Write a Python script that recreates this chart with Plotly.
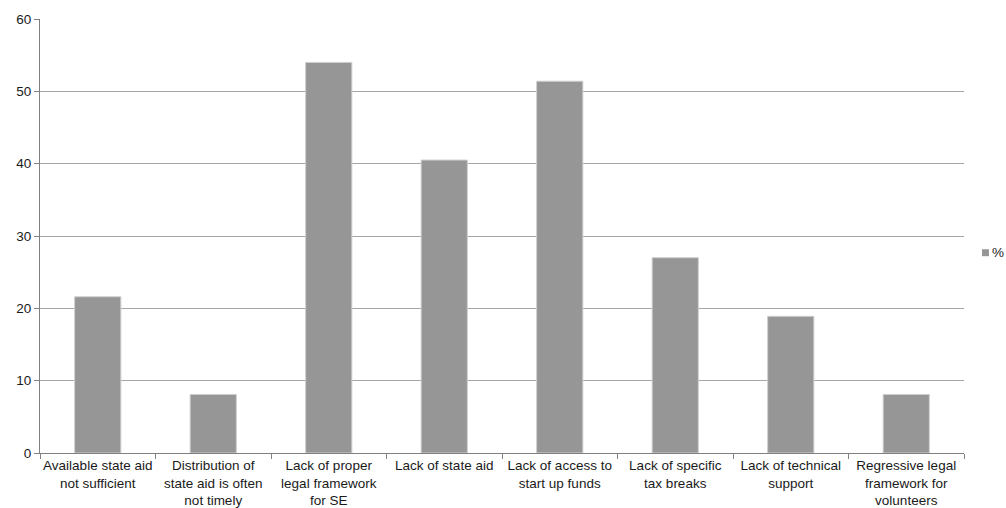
import plotly.graph_objects as go

categories = [
    "Available state aid<br>not sufficient",
    "Distribution of<br>state aid is often<br>not timely",
    "Lack of proper<br>legal framework<br>for SE",
    "Lack of state aid",
    "Lack of access to<br>start up funds",
    "Lack of specific<br>tax breaks",
    "Lack of technical<br>support",
    "Regressive legal<br>framework for<br>volunteers",
]
percent = [21.6, 8.1, 54.0, 40.5, 51.4, 27.0, 18.9, 8.1]
series_name = "%"
y_ticks = [0, 10, 20, 30, 40, 50, 60]

BAR = "#969696"
FONT = dict(family="Liberation Sans, Arial, sans-serif", size=13.5, color="#1a1a1a")

fig = go.Figure()
fig.add_trace(go.Bar(
    x=categories,
    y=percent,
    name=series_name,
    marker=dict(color=BAR, line=dict(color="#cfcfcf", width=1)),
    showlegend=False,
))

# Legend key drawn to the right of the plot area
fig.add_shape(type="rect", xref="paper", yref="paper",
              x0=1.0195, x1=1.0270, y0=0.4535, y1=0.4695,
              fillcolor=BAR, line=dict(width=0))
fig.add_annotation(text=series_name, xref="paper", yref="paper",
                   x=1.0285, y=0.4615, xanchor="left", yanchor="middle",
                   showarrow=False, font=FONT)

fig.update_layout(
    width=1006, height=508,
    margin=dict(l=40, r=42, t=19, b=55),
    paper_bgcolor="white", plot_bgcolor="white",
    font=FONT,
    bargap=0.6,
)
fig.update_xaxes(
    showline=True, linecolor="#808080", linewidth=1,
    ticks="outside", tickson="boundaries", ticklen=5, tickcolor="#808080",
    showgrid=False, tickangle=0, automargin=False,
)
fig.update_yaxes(
    range=[0, 60], tickvals=y_ticks,
    showline=True, linecolor="#808080", linewidth=1,
    ticks="outside", ticklen=5, tickcolor="#808080",
    showgrid=True, gridcolor="#a6a6a6", gridwidth=1,
    zeroline=False, automargin=False,
)

fig.write_html("out.html")
